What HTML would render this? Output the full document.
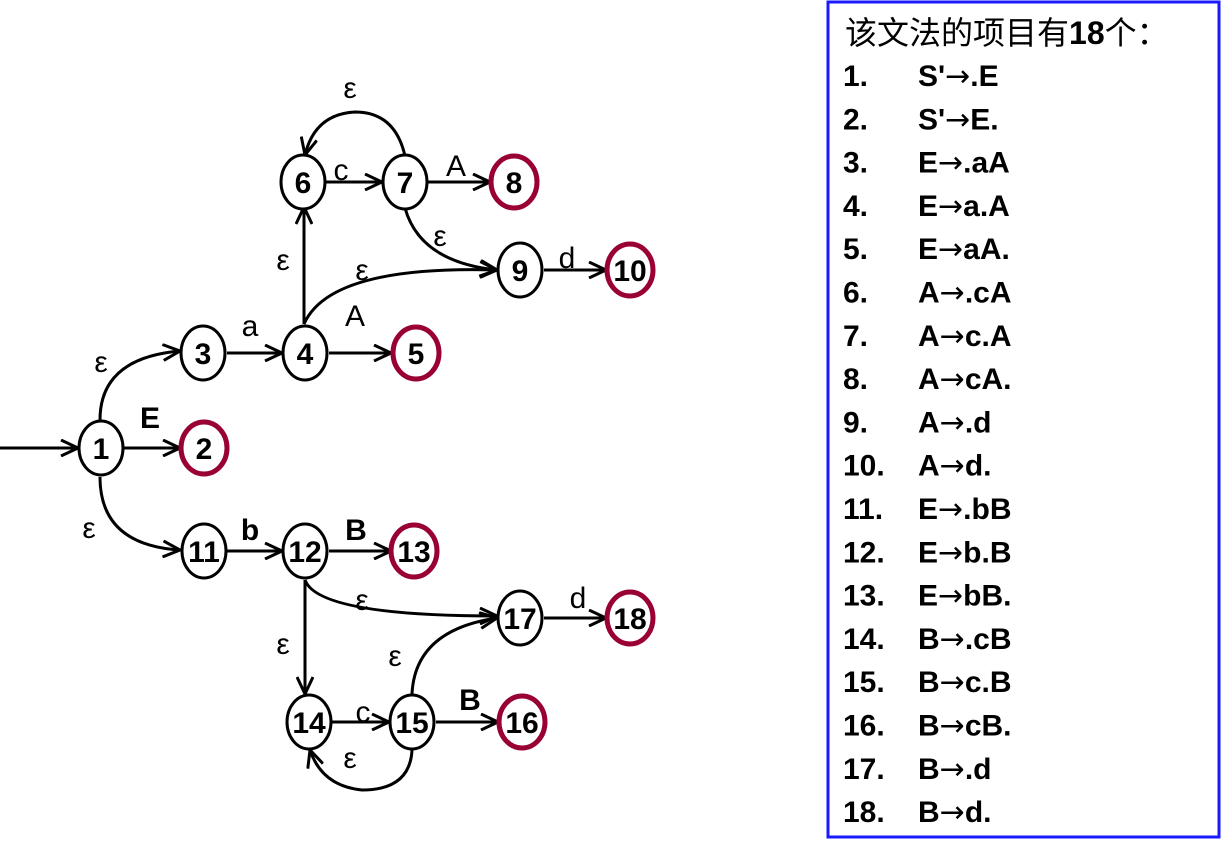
<!DOCTYPE html>
<html><head><meta charset="utf-8"><style>
body{margin:0;background:#fff;width:1224px;height:841px;overflow:hidden}
svg text{font-family:"Liberation Sans","Noto Sans CJK SC",sans-serif}
</style></head><body>
<svg width="1224" height="841">
<defs><marker id="ar" markerWidth="20" markerHeight="18" refX="18" refY="9" orient="auto" markerUnits="userSpaceOnUse"><polyline points="1,1 18,9 1,17" fill="none" stroke="#000" stroke-width="3"/></marker></defs>
<g id="edges" fill="none" stroke="#000" stroke-width="3" marker-end="url(#ar)"></g>
<g id="labels" font-size="30"></g>
<g id="nodes"></g>
<rect x="828" y="2" width="391" height="835" fill="none" stroke="#1a1aff" stroke-width="3"/>
<g id="list" font-size="30" font-weight="bold"></g>
</svg>
<script>
const ids=[1,2,3,4,5,6,7,8,9,10,11,12,13,14,15,16,17,18];
const nx=[101,204,203,305,416,303,405,514,520,630,204,305,414,309,412,522,520,630];
const ny=[448,448,353,353,353,182,182,182,270,270,551,551,551,722,722,722,618,618];
const finals=[2,5,8,10,13,16,18];
const edges=[
["M0,448 L78,448"],["M123,448 L180,448"],["M100,420 Q100,358 180,351"],["M100,477 Q100,545 180,550"],
["M227,353 L282,353"],["M329,353 L391,353"],["M304,324 L304,207"],["M304,324 Q330,265 497,270"],
["M326,182 L382,182"],["M405,156 Q395,112 355,112 Q315,114 305,155"],["M428,182 L490,182"],
["M405,208 Q420,262 497,270"],["M544,270 L606,270"],["M227,551 L282,551"],["M329,551 L391,551"],
["M305,580 Q318,616 497,616"],["M305,580 L305,694"],["M332,722 L389,722"],
["M412,750 Q410,790 362,790 Q322,786 310,750"],["M412,694 Q415,630 497,618"],["M436,722 L498,722"],["M544,618 L606,618"]];
const labs=[["E",150,428,1],["ε",101,372,0],["ε",89,538,0],["a",250,336,0],["A",355,326,0],["ε",283,270,0],["ε",362,280,0],
["c",341,180,0],["ε",350,98,0],["A",456,176,0],["ε",440,246,0],["d",567,268,0],["b",250,540,1],["B",356,540,1],
["ε",362,610,0],["ε",283,654,0],["c",363,722,0],["ε",350,768,0],["ε",395,666,0],["B",470,710,1],["d",578,608,0]];
const NS="http://www.w3.org/2000/svg";
const eg=document.getElementById('edges');
edges.forEach(e=>{const p=document.createElementNS(NS,'path');p.setAttribute('d',e[0]);


eg.appendChild(p);});
const lg=document.getElementById('labels');
labs.forEach(l=>{const t=document.createElementNS(NS,'text');t.setAttribute('x',l[1]);t.setAttribute('y',l[2]);t.setAttribute('text-anchor','middle');if(l[3])t.setAttribute('font-weight','bold');t.textContent=l[0];


lg.appendChild(t);});
const ng=document.getElementById('nodes');
ids.forEach((id,i)=>{const f=finals.includes(id);const g=document.createElementNS(NS,'g');


const e=document.createElementNS(NS,'ellipse');e.setAttribute('cx',nx[i]);e.setAttribute('cy',ny[i]);
e.setAttribute('rx',f?23:22);e.setAttribute('ry',f?26:27);e.setAttribute('fill','#fff');
e.setAttribute('stroke',f?'#990033':'#000');e.setAttribute('stroke-width',f?5:3);g.appendChild(e);
const t=document.createElementNS(NS,'text');t.setAttribute('x',nx[i]);t.setAttribute('y',ny[i]+11);t.setAttribute('text-anchor','middle');
t.setAttribute('font-size','30');t.setAttribute('font-weight','bold');t.textContent=id;g.appendChild(t);ng.appendChild(g);});
const items=["S'|.E","S'|E.","E|.aA","E|a.A","E|aA.","A|.cA","A|c.A","A|cA.","A|.d","A|d.","E|.bB","E|b.B","E|bB.","B|.cB","B|c.B","B|cB.","B|.d","B|d."];
const ll=document.getElementById('list');
const tt=document.createElementNS(NS,'text');tt.setAttribute('x',845);tt.setAttribute('y',44);tt.setAttribute('font-weight','normal');tt.setAttribute('font-size','32');
tt.innerHTML='该文法的项目有<tspan font-weight="bold">18</tspan>个：';


ll.appendChild(tt);
items.forEach((s,i)=>{const y=86+i*43.3;
const a=document.createElementNS(NS,'text');a.setAttribute('x',843);a.setAttribute('y',y);a.textContent=(i+1)+'.';


ll.appendChild(a);
const p=s.split('|');
const b=document.createElementNS(NS,'text');b.setAttribute('x',918);b.setAttribute('y',y);
b.innerHTML=p[0]+'<tspan font-family="DejaVu Sans" font-weight="normal">→</tspan>'+p[1];


ll.appendChild(b);});
</script>
</body></html>
